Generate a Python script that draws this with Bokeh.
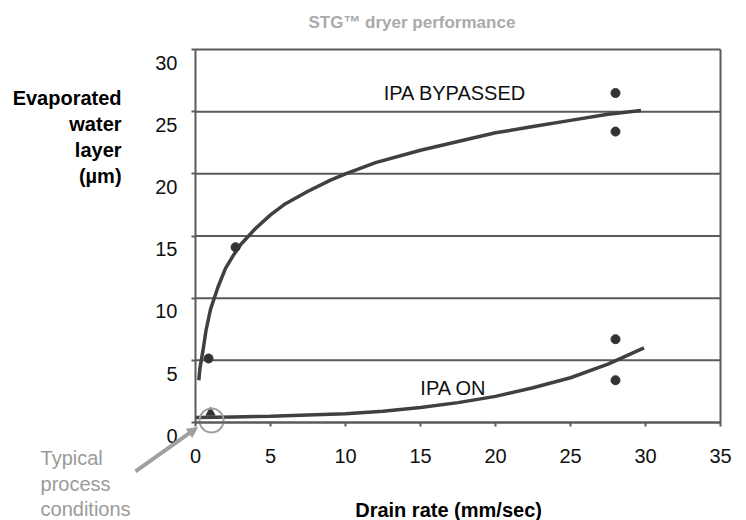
from bokeh.plotting import figure
from bokeh.models import Label, Arrow, NormalHead, FixedTicker, Range1d
from bokeh.embed import file_html
from bokeh.resources import INLINE

# ---- data ----
x_ticks = [0, 5, 10, 15, 20, 25, 30, 35]
y_ticks = [0, 5, 10, 15, 20, 25, 30]

bypass_curve_x = [0.22, 0.3, 0.4, 0.5, 0.7, 1, 1.5, 2, 2.5, 3, 4, 5, 6, 7.5, 9, 10,
                  12, 15, 17.5, 20, 22.5, 25, 27.5, 29.7]
bypass_curve_y = [3.4, 4.4, 5.1, 5.8, 7.4, 9.1, 10.9, 12.4, 13.4, 14.3, 15.6, 16.7, 17.6,
                  18.6, 19.5, 20.0, 20.9, 21.9, 22.6, 23.3, 23.8, 24.3, 24.8, 25.1]

on_curve_x = [0, 2.5, 5, 7.5, 10, 12.5, 15, 17.5, 20, 22.5, 25, 27.5, 29.9]
on_curve_y = [0.4, 0.45, 0.5, 0.6, 0.7, 0.9, 1.2, 1.6, 2.1, 2.8, 3.6, 4.7, 6.0]

bypass_pts_x = [0.87, 2.67, 28.0, 28.0]
bypass_pts_y = [5.15, 14.1, 26.5, 23.4]

on_pts_x = [28.0, 28.0]
on_pts_y = [6.7, 3.4]

typical_x = [1.0]
typical_y = [0.8]

FONT = "Liberation Sans"
GRID = "#5a5a5a"
INK = "#404040"
GREY = "#a0a0a0"

# the frame covers the whole canvas; the axes are pinned at x=0 / y=0
p = figure(width=746, height=520, output_backend="svg", toolbar_location=None,
           x_range=Range1d(-13.0, 36.733), y_range=Range1d(-7.882, 33.942),
           min_border=0)
p.background_fill_color = "white"
p.border_fill_color = "white"
p.outline_line_color = None

p.xgrid.visible = False
p.ygrid.visible = False

for ax in (p.xaxis[0], p.yaxis[0]):
    ax.fixed_location = 0
    ax.axis_line_color = GRID
    ax.axis_line_width = 2
    ax.major_tick_line_color = GRID
    ax.major_tick_line_width = 2
    ax.major_tick_in = 0
    ax.major_tick_out = 4
    ax.minor_tick_line_color = None
    ax.major_label_text_font = FONT
    ax.major_label_text_font_size = "20px"
    ax.major_label_text_color = "#111111"

p.xaxis.ticker = FixedTicker(ticks=x_ticks)
p.yaxis.ticker = FixedTicker(ticks=y_ticks)
p.xaxis.bounds = (x_ticks[0], x_ticks[-1])
p.yaxis.bounds = (y_ticks[0], y_ticks[-1])
p.xaxis.major_label_standoff = 22
p.yaxis.major_label_standoff = 14
p.yaxis.major_label_overrides = {t: "\n" + str(t) for t in y_ticks}

# horizontal grid lines at the y ticks, across the plot area, plus the right border
p.segment(x0=x_ticks[0], x1=x_ticks[-1], y0=y_ticks, y1=y_ticks, line_color=GRID, line_width=2)
p.segment(x0=x_ticks[-1], x1=x_ticks[-1], y0=y_ticks[0], y1=y_ticks[-1], line_color=GRID, line_width=2)

# curves and points
p.line(bypass_curve_x, bypass_curve_y, line_color=INK, line_width=3.5)
p.line(on_curve_x, on_curve_y, line_color=INK, line_width=3.5)
p.scatter(bypass_pts_x, bypass_pts_y, size=9, color="#333333")
p.scatter(on_pts_x, on_pts_y, size=9, color="#333333")
p.scatter(typical_x, typical_y, marker="triangle", size=9, color="#333333")

# circle marking the typical process conditions
p.scatter([1.07], [0.16], size=24, fill_color=None, line_color=GREY, line_width=2)

# series labels
p.add_layout(Label(x=17.3, y=26.5, text="IPA BYPASSED", text_align="center", text_baseline="middle",
                   text_font=FONT, text_font_size="20px", text_color="#111111"))
p.add_layout(Label(x=17.2, y=2.8, text="IPA ON", text_align="center", text_baseline="middle",
                   text_font=FONT, text_font_size="20px", text_color="#111111"))

# title
p.add_layout(Label(x=7.53, y=32.17, text="STG\u2122 dryer performance", text_align="left",
                   text_baseline="middle", text_font=FONT, text_font_size="17px",
                   text_font_style="bold", text_color="#aaaaaa"))

# y axis title
for txt, yy in [("Evaporated", 26.06), ("water", 23.97), ("layer", 21.88), ("(\u00b5m)", 19.79)]:
    p.add_layout(Label(x=-4.93, y=yy, text=txt, text_align="right", text_baseline="middle",
                       text_font=FONT, text_font_size="20px", text_font_style="bold",
                       text_color="#000000"))

# x axis title
p.add_layout(Label(x=16.87, y=-7.0, text="Drain rate (mm/sec)", text_align="center",
                   text_baseline="middle", text_font=FONT, text_font_size="20px",
                   text_font_style="bold", text_color="#000000"))

# typical process conditions note
for txt, yy in [("Typical", -2.82), ("process", -4.91), ("conditions", -6.92)]:
    p.add_layout(Label(x=-10.33, y=yy, text=txt, text_align="left", text_baseline="middle",
                       text_font=FONT, text_font_size="20px", text_color="#9a9a9a"))

p.add_layout(Arrow(x_start=-4.0, y_start=-3.94, x_end=0.13, y_end=-0.40,
                   line_color=GREY, line_width=4,
                   end=NormalHead(size=10, fill_color=GREY, line_color=GREY)))

open("out.html", "w").write(file_html(p, INLINE))
